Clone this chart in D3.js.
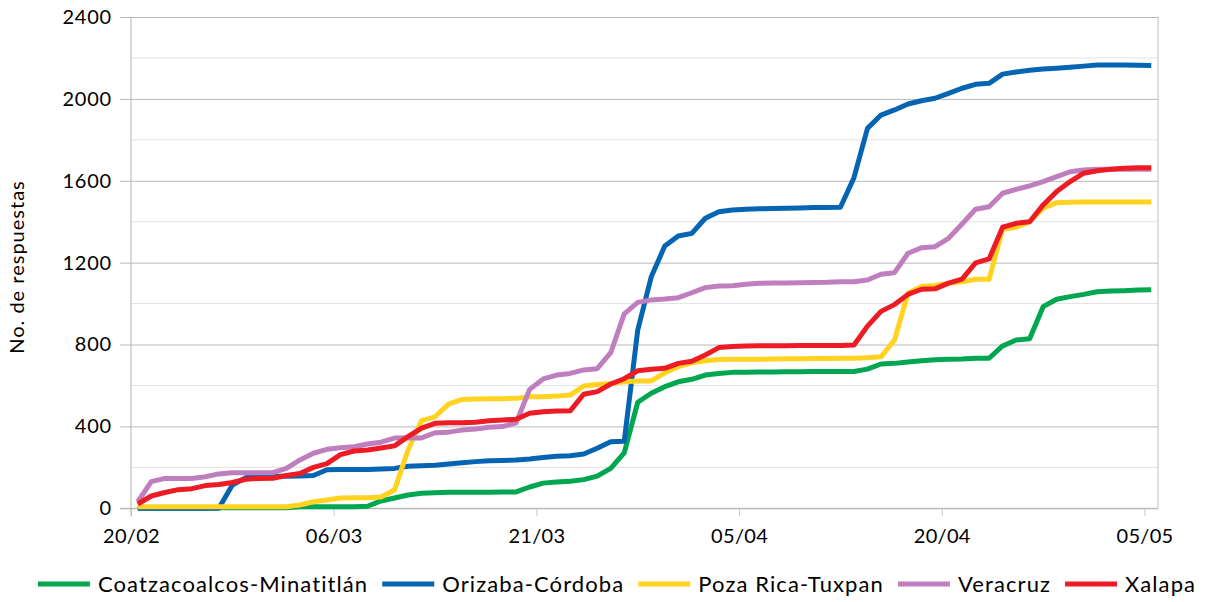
<!DOCTYPE html>
<html>
<head>
<meta charset="utf-8">
<script src="https://cdn.jsdelivr.net/npm/d3@7"></script>
<style>
  html, body { margin: 0; padding: 0; background: #fff; }
  svg { display: block; }
  text { font-family: Lato, "DejaVu Sans", sans-serif; fill: #000; }
</style>
</head>
<body>
<svg id="chart" width="1206" height="602"></svg>
<script>
// ---- Data ----
const startDate = "2020-02-20";
const endDate = "2020-05-05";
const tickLabels = ["20/02", "06/03", "21/03", "05/04", "20/04", "05/05"];
const yTicks = [0, 400, 800, 1200, 1600, 2000, 2400];
const seriesNames = ["Coatzacoalcos-Minatitlán", "Orizaba-Córdoba", "Poza Rica-Tuxpan", "Veracruz", "Xalapa"];

const coatzacoalcos = [0,0,0,0,0,0,3,3,3,3,3,3,8,8,8,8,8,10,36,50,65,73,76,78,78,78,79,80,80,104,123,128,132,140,157,195,271,518,562,594,618,630,651,659,664,665,666,666,667,667,668,668,668,668,680,705,708,715,721,726,728,729,733,733,793,822,828,985,1021,1034,1045,1058,1061,1063,1066,1068];
const orizaba = [0,0,0,0,0,0,0,114,150,155,156,157,158,160,188,190,190,190,192,195,205,208,210,216,223,228,232,234,236,241,248,254,257,265,293,325,327,871,1131,1281,1330,1343,1417,1449,1457,1461,1463,1465,1466,1467,1469,1470,1471,1615,1856,1921,1946,1975,1991,2003,2027,2052,2071,2076,2121,2131,2140,2146,2150,2155,2160,2165,2165,2165,2164,2163];
const pozaRica = [8,8,8,8,8,8,8,8,8,8,8,8,16,32,41,50,52,52,55,89,285,428,447,509,532,534,535,535,537,545,545,548,553,597,605,610,618,622,622,662,692,711,721,727,728,728,728,729,730,731,732,732,733,733,736,740,822,1052,1083,1088,1099,1107,1119,1119,1363,1373,1400,1466,1493,1495,1496,1496,1496,1496,1496,1496];
const veracruz = [32,130,146,146,146,154,168,174,174,174,174,195,236,269,288,296,301,314,323,343,345,344,369,372,382,387,396,399,418,581,632,651,659,676,682,760,950,1006,1018,1022,1029,1053,1078,1086,1087,1094,1099,1100,1101,1102,1103,1104,1107,1107,1115,1143,1151,1246,1273,1278,1319,1389,1461,1473,1539,1558,1575,1596,1620,1644,1653,1656,1656,1656,1656,1656];
const xalapa = [21,60,77,91,96,111,116,126,142,146,147,160,170,200,218,262,280,285,295,305,350,392,415,418,418,420,428,431,435,464,472,475,476,557,570,607,633,672,679,684,708,718,749,785,790,793,794,794,794,795,795,795,795,798,890,962,995,1045,1070,1072,1100,1120,1199,1218,1373,1392,1400,1482,1547,1596,1637,1649,1656,1661,1664,1664];

const colors = ["#00a650", "#0565b2", "#ffd320", "#bf7fbf", "#ed1c24"];
const seriesValues = [coatzacoalcos, orizaba, pozaRica, veracruz, xalapa];

(function () {
// ---- Layout ----
const svg = d3.select("#chart");
const pL = 131, pR = 1158, pT = 17, pB = 508.3;
const FONT = "Lato, 'DejaVu Sans', sans-serif";

const parse = d3.utcParse("%Y-%m-%d");
const d0 = parse(startDate), d1 = parse(endDate);
const days = d3.utcDay.range(d0, d3.utcDay.offset(d1, 1));
const tickDates = d3.utcDay.range(d0, d3.utcDay.offset(d1, 1), 15);

const x = d3.scaleUtc()
  .domain([d0, d3.utcDay.offset(d1, 1)])
  .range([pL, pR]);
const y = d3.scaleLinear().domain([0, 2400]).range([pB, pT]);

// minor gridlines
const minor = d3.range(200, 2400, 400);
svg.append("g").selectAll("line").data(minor).join("line")
  .attr("x1", pL).attr("x2", pR)
  .attr("y1", d => y(d)).attr("y2", d => y(d))
  .attr("stroke", "#e2e2e2").attr("stroke-width", 1);

// major y gridlines with ticks
const yAxis = d3.axisLeft(y).tickValues(yTicks).tickSize(-(pR - pL)).tickSizeOuter(0).tickFormat(d3.format("d"));
const gy = svg.append("g").attr("transform", `translate(${pL},0)`).call(yAxis);
gy.select(".domain").remove();
gy.selectAll(".tick line").attr("stroke", "#b8b8b8").attr("x1", -11);
gy.selectAll(".tick text").attr("font-size", 20).attr("x", -19)
  .style("font-family", FONT).style("letter-spacing", "0.8px");

// vertical gridlines
const xAxis = d3.axisBottom(x).tickValues(tickDates).tickSize(-(pB - pT)).tickSizeOuter(0)
  .tickFormat((d, i) => tickLabels[i]).tickPadding(21);
const gx = svg.append("g").attr("transform", `translate(0,${pB})`).call(xAxis);
gx.select(".domain").remove();
gx.selectAll(".tick line").attr("stroke", "#c8c8c8").attr("y2", 8);
gx.selectAll(".tick text").attr("font-size", 20)
  .style("font-family", FONT).style("letter-spacing", "0.3px");

// plot frame
svg.append("line").attr("x1", pL).attr("x2", pL).attr("y1", pT).attr("y2", pB + 8).attr("stroke", "#b3b3b3");
svg.append("line").attr("x1", pR).attr("x2", pR).attr("y1", pT).attr("y2", pB).attr("stroke", "#c0c0c0");
svg.append("line").attr("x1", pL - 11).attr("x2", pR).attr("y1", pB).attr("y2", pB).attr("stroke", "#b3b3b3");

// lines
const line = d3.line()
  .x((d, i) => x(d3.utcHour.offset(days[i], 12)))
  .y(d => y(d));
svg.append("g").selectAll("path").data(seriesValues).join("path")
  .attr("d", d => line(d))
  .attr("fill", "none")
  .attr("stroke", (d, i) => colors[i])
  .attr("stroke-width", 5)
  .attr("stroke-linejoin", "round");

// y title
svg.append("text")
  .attr("transform", "translate(24,267) rotate(-90)")
  .attr("text-anchor", "middle")
  .attr("font-size", 20)
  .style("letter-spacing", "1px")
  .text("No. de respuestas");

// legend
const lg = svg.append("g");
const swatchW = 52, gapText = 8, gapItem = 14, legY = 584;
const items = [];
seriesNames.forEach((name, i) => {
  const g = lg.append("g");
  g.append("line").attr("x1", 0).attr("x2", swatchW).attr("y1", 0).attr("y2", 0)
    .attr("stroke", colors[i]).attr("stroke-width", 5);
  const t = g.append("text").attr("x", swatchW + gapText).attr("y", 8)
    .attr("font-size", 22).style("letter-spacing", "1.1px").text(name);
  const w = swatchW + gapText + t.node().getComputedTextLength();
  items.push({ g, w });
});
const total = d3.sum(items, d => d.w) + gapItem * (items.length - 1);
let cx = 617 - total / 2;
items.forEach(it => {
  it.g.attr("transform", `translate(${cx},${legY})`);
  cx += it.w + gapItem;
});
})();
</script>
</body>
</html>
